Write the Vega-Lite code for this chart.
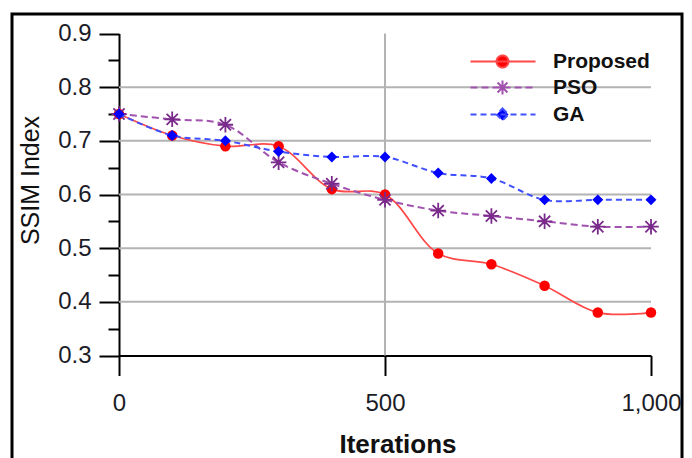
{
  "$schema": "https://vega.github.io/schema/vega-lite/v6.json",
  "width": 670,
  "height": 450,
  "autosize": {"type": "none"},
  "padding": {"left": 12, "top": 14, "right": 10, "bottom": -6},
  "background": "white",
  "config": {
    "view": {"stroke": "#000000", "strokeWidth": 3, "fill": "white"},
    "font": "Liberation Sans",
    "axis": {
      "domainColor": "#000000",
      "domainWidth": 2,
      "tickColor": "#000000",
      "tickWidth": 2,
      "labelFont": "Liberation Sans",
      "labelFontSize": 24,
      "labelColor": "#1c1c28",
      "labelFlush": false,
      "labelOverlap": false,
      "labelBound": false,
      "grid": false,
      "titleFont": "Liberation Sans",
      "titleColor": "#111111"
    },
    "legend": {
      "labelFont": "Liberation Sans",
      "labelFontSize": 21,
      "labelFontWeight": "bold",
      "labelColor": "#111111"
    }
  },
  "data": {
    "values": [
      {"iter": 0, "ssim": 0.75, "series": "Proposed"},
      {"iter": 100, "ssim": 0.71, "series": "Proposed"},
      {"iter": 200, "ssim": 0.69, "series": "Proposed"},
      {"iter": 300, "ssim": 0.69, "series": "Proposed"},
      {"iter": 400, "ssim": 0.61, "series": "Proposed"},
      {"iter": 500, "ssim": 0.60, "series": "Proposed"},
      {"iter": 600, "ssim": 0.49, "series": "Proposed"},
      {"iter": 700, "ssim": 0.47, "series": "Proposed"},
      {"iter": 800, "ssim": 0.43, "series": "Proposed"},
      {"iter": 900, "ssim": 0.38, "series": "Proposed"},
      {"iter": 1000, "ssim": 0.38, "series": "Proposed"},
      {"iter": 0, "ssim": 0.75, "series": "PSO"},
      {"iter": 100, "ssim": 0.74, "series": "PSO"},
      {"iter": 200, "ssim": 0.73, "series": "PSO"},
      {"iter": 300, "ssim": 0.66, "series": "PSO"},
      {"iter": 400, "ssim": 0.62, "series": "PSO"},
      {"iter": 500, "ssim": 0.59, "series": "PSO"},
      {"iter": 600, "ssim": 0.57, "series": "PSO"},
      {"iter": 700, "ssim": 0.56, "series": "PSO"},
      {"iter": 800, "ssim": 0.55, "series": "PSO"},
      {"iter": 900, "ssim": 0.54, "series": "PSO"},
      {"iter": 1000, "ssim": 0.54, "series": "PSO"},
      {"iter": 0, "ssim": 0.75, "series": "GA"},
      {"iter": 100, "ssim": 0.71, "series": "GA"},
      {"iter": 200, "ssim": 0.70, "series": "GA"},
      {"iter": 300, "ssim": 0.68, "series": "GA"},
      {"iter": 400, "ssim": 0.67, "series": "GA"},
      {"iter": 500, "ssim": 0.67, "series": "GA"},
      {"iter": 600, "ssim": 0.64, "series": "GA"},
      {"iter": 700, "ssim": 0.63, "series": "GA"},
      {"iter": 800, "ssim": 0.59, "series": "GA"},
      {"iter": 900, "ssim": 0.59, "series": "GA"},
      {"iter": 1000, "ssim": 0.59, "series": "GA"}
    ]
  },
  "layer": [
    {
      "data": {"values": [{"level": 0.4}, {"level": 0.5}, {"level": 0.6}, {"level": 0.7}, {"level": 0.8}]},
      "mark": {"type": "rule", "color": "#b3b3b3", "strokeWidth": 2},
      "encoding": {
        "x": {"datum": 0, "type": "quantitative", "scale": {"domain": [0, 1000], "range": [107, 639], "nice": false}, "axis": null},
        "x2": {"datum": 1000},
        "y": {
          "field": "level",
          "type": "quantitative",
          "scale": {"domain": [0.3, 0.9], "range": [341.5, 19.5], "nice": false, "zero": false},
          "axis": {"orient": "left", "offset": -107, "values": [0.35, 0.45, 0.55, 0.65, 0.75, 0.85], "tickSize": 11, "labels": false, "domain": false, "title": null}
        }
      }
    },
    {
      "data": {"values": [{}]},
      "mark": {"type": "rule", "color": "#b3b3b3", "strokeWidth": 2},
      "encoding": {
        "x": {"datum": 500, "type": "quantitative", "scale": {"domain": [0, 1000], "range": [107, 639], "nice": false}, "axis": null},
        "y": {"datum": 0.3, "type": "quantitative", "scale": {"domain": [0.3, 0.9], "range": [341.5, 19.5], "nice": false, "zero": false}, "axis": null},
        "y2": {"datum": 0.9}
      }
    },
    {
      "transform": [{"filter": "datum.series === 'Proposed'"}],
      "mark": {
        "type": "line",
        "interpolate": "catmull-rom",
        "color": "#ff4848",
        "strokeWidth": 1.7,
        "point": {"filled": true, "color": "#ff0000", "size": 110, "opacity": 1}
      },
      "encoding": {
        "x": {
          "field": "iter",
          "type": "quantitative",
          "scale": {"domain": [0, 1000], "range": [107, 639], "nice": false},
          "axis": {"orient": "bottom", "values": [0, 500, 1000], "labelExpr": "format(datum.value, ',.0f')", "tickSize": 20, "labelPadding": 16, "offset": -108.5, "title": "Iterations", "titleFontSize": 26, "titleFontWeight": "bold", "titlePadding": 16, "titleX": 385.5}
        },
        "y": {
          "field": "ssim",
          "type": "quantitative",
          "scale": {"domain": [0.3, 0.9], "range": [341.5, 19.5], "nice": false, "zero": false},
          "axis": {"orient": "left", "offset": -107, "values": [0.3, 0.4, 0.5, 0.6, 0.7, 0.8, 0.9], "format": ".1f", "tickSize": 20, "labelPadding": 8, "title": "SSIM Index", "titleFontSize": 25, "titleFontWeight": "normal", "titlePadding": 14, "titleY": 166}
        }
      }
    },
    {
      "transform": [{"filter": "datum.series === 'PSO'"}],
      "mark": {
        "type": "line",
        "interpolate": "catmull-rom",
        "color": "#a052ae",
        "strokeWidth": 2,
        "strokeDash": [7, 4],
        "point": {"shape": "M0,0L0,-1M0,0L0,1M0,0L-1,0M0,0L1,0M0,0L0.72,-0.72M0,0L-0.72,0.72M0,0L0.72,0.72M0,0L-0.72,-0.72", "filled": false, "color": "#7a2a8a", "size": 240, "strokeWidth": 1.8, "opacity": 1}
      },
      "encoding": {
        "x": {"field": "iter", "type": "quantitative", "scale": {"domain": [0, 1000], "range": [107, 639], "nice": false}, "axis": null},
        "y": {"field": "ssim", "type": "quantitative", "scale": {"domain": [0.3, 0.9], "range": [341.5, 19.5], "nice": false, "zero": false}, "axis": null}
      }
    },
    {
      "transform": [{"filter": "datum.series === 'GA'"}],
      "mark": {
        "type": "line",
        "interpolate": "catmull-rom",
        "color": "#4050ff",
        "strokeWidth": 2,
        "strokeDash": [6, 4],
        "point": {"shape": "diamond", "filled": true, "color": "#0000ff", "size": 120, "opacity": 1}
      },
      "encoding": {
        "x": {"field": "iter", "type": "quantitative", "scale": {"domain": [0, 1000], "range": [107, 639], "nice": false}, "axis": null},
        "y": {"field": "ssim", "type": "quantitative", "scale": {"domain": [0.3, 0.9], "range": [341.5, 19.5], "nice": false, "zero": false}, "axis": null}
      }
    },
    {
      "transform": [{"filter": "datum.iter < 0"}],
      "mark": {"type": "point", "filled": true, "size": 100, "strokeWidth": 2, "opacity": 1},
      "encoding": {
        "fill": {
          "field": "series",
          "type": "nominal",
          "scale": {"domain": ["Proposed", "PSO", "GA"], "range": ["#ff0000", "#7a2a8a", "#0000ff"]},
          "legend": {"title": null, "orient": "none", "legendX": 453, "legendY": 37, "direction": "vertical", "symbolSize": 100, "symbolStrokeWidth": 2, "labelOffset": 67, "rowPadding": 4, "padding": 0, "symbolOffset": 0}
        },
        "stroke": {
          "field": "series",
          "type": "nominal",
          "scale": {"domain": ["Proposed", "PSO", "GA"], "range": ["#ff4848", "#a052ae", "#4050ff"]},
          "legend": {"title": null}
        },
        "strokeDash": {
          "field": "series",
          "type": "nominal",
          "scale": {"domain": ["Proposed", "PSO", "GA"], "range": [[1, 0], [7, 4], [6, 4]]},
          "legend": {"title": null}
        },
        "shape": {
          "field": "series",
          "type": "nominal",
          "scale": {
            "domain": ["Proposed", "PSO", "GA"],
            "range": [
              "M-1,0L12,0M6.6,0A1.2,1.2,0,1,1,4.2,0A1.2,1.2,0,1,1,6.6,0Z",
              "M-1,0L12,0M5.4,0L5.4,-1.5M5.4,0L5.4,1.5M5.4,0L3.9,0M5.4,0L6.9,0M5.4,0L6.45,-1.05M5.4,0L4.35,1.05M5.4,0L6.45,1.05M5.4,0L4.35,-1.05",
              "M-1,0L12,0M5.4,-1.2L6.6,0L5.4,1.2L4.2,0Z"
            ]
          },
          "legend": {"title": null}
        }
      }
    }
  ],
  "resolve": {"axis": {"x": "independent", "y": "independent"}}
}
